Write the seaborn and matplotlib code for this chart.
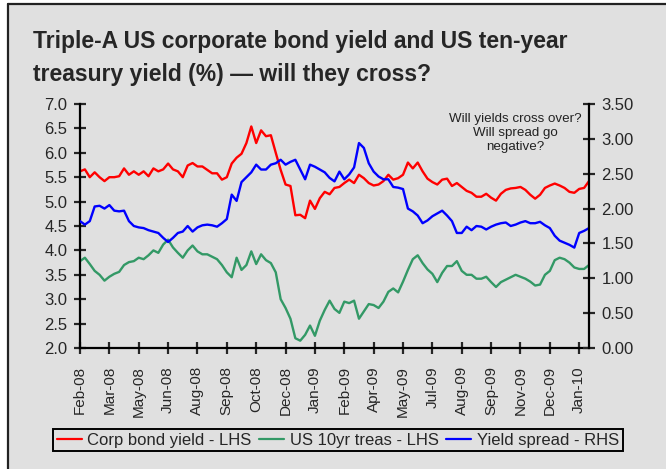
import numpy as np
import pandas as pd
import matplotlib
matplotlib.use("Agg")
import matplotlib.pyplot as plt
from matplotlib.ticker import FormatStrFormatter, MultipleLocator
from matplotlib.patches import Rectangle
from matplotlib.lines import Line2D
import seaborn as sns

# ---- data (weekly samples) ----
corp_bond = [5.62, 5.66, 5.50, 5.60, 5.50, 5.42, 5.50, 5.50, 5.52, 5.68,
             5.55, 5.62, 5.55, 5.62, 5.52, 5.68, 5.62, 5.66, 5.78, 5.66,
             5.62, 5.50, 5.74, 5.79, 5.72, 5.72, 5.65, 5.58, 5.58, 5.45,
             5.50, 5.78, 5.90, 5.98, 6.20, 6.54, 6.20, 6.46, 6.34, 6.36,
             6.00, 5.65, 5.35, 5.32, 4.72, 4.73, 4.66, 5.02, 4.85, 5.07,
             5.20, 5.15, 5.28, 5.30, 5.38, 5.45, 5.38, 5.55, 5.48, 5.38,
             5.33, 5.35, 5.42, 5.55, 5.45, 5.48, 5.55, 5.80, 5.68, 5.80,
             5.62, 5.47, 5.40, 5.35, 5.45, 5.47, 5.32, 5.38, 5.30, 5.22,
             5.18, 5.10, 5.10, 5.16, 5.08, 5.02, 5.16, 5.24, 5.27, 5.28,
             5.30, 5.24, 5.14, 5.06, 5.14, 5.28, 5.33, 5.37, 5.33, 5.28,
             5.20, 5.18, 5.26, 5.28, 5.42]

treasury_10yr = [3.78, 3.85, 3.72, 3.58, 3.50, 3.38, 3.46, 3.52, 3.56, 3.70,
                 3.76, 3.78, 3.85, 3.82, 3.90, 4.00, 3.95, 4.12, 4.22, 4.06,
                 3.95, 3.85, 4.00, 4.10, 3.98, 3.92, 3.92, 3.87, 3.82, 3.70,
                 3.55, 3.45, 3.85, 3.60, 3.70, 3.98, 3.72, 3.92, 3.80, 3.74,
                 3.55, 3.00, 2.82, 2.60, 2.20, 2.15, 2.27, 2.46, 2.25, 2.56,
                 2.78, 2.97, 2.80, 2.72, 2.95, 2.92, 2.97, 2.60, 2.75, 2.90,
                 2.88, 2.82, 2.95, 3.15, 3.22, 3.14, 3.36, 3.60, 3.82, 3.90,
                 3.74, 3.61, 3.52, 3.35, 3.54, 3.68, 3.68, 3.78, 3.58, 3.50,
                 3.50, 3.42, 3.42, 3.46, 3.35, 3.25, 3.35, 3.40, 3.45, 3.50,
                 3.46, 3.42, 3.36, 3.28, 3.30, 3.50, 3.58, 3.80, 3.85, 3.82,
                 3.75, 3.65, 3.62, 3.62, 3.70]

yield_spread = [1.82, 1.77, 1.82, 2.03, 2.04, 2.00, 2.05, 1.97, 1.96, 1.97,
                1.82, 1.75, 1.73, 1.72, 1.69, 1.67, 1.65, 1.58, 1.52, 1.58,
                1.65, 1.67, 1.75, 1.67, 1.73, 1.76, 1.77, 1.76, 1.74, 1.79,
                1.85, 2.20, 2.11, 2.38, 2.45, 2.52, 2.63, 2.56, 2.56, 2.63,
                2.65, 2.70, 2.63, 2.67, 2.70, 2.56, 2.42, 2.63, 2.60, 2.56,
                2.52, 2.44, 2.39, 2.53, 2.42, 2.49, 2.59, 2.94, 2.87, 2.65,
                2.53, 2.46, 2.42, 2.42, 2.31, 2.30, 2.28, 2.00, 1.96, 1.90,
                1.79, 1.83, 1.89, 1.93, 1.97, 1.90, 1.82, 1.65, 1.65, 1.74,
                1.69, 1.75, 1.74, 1.70, 1.74, 1.77, 1.79, 1.80, 1.75, 1.77,
                1.80, 1.82, 1.79, 1.79, 1.81, 1.76, 1.72, 1.61, 1.54, 1.51,
                1.48, 1.44, 1.65, 1.68, 1.72]

tick_labels = ["Feb-08", "Mar-08", "May-08", "Jun-08", "Aug-08", "Sep-08",
               "Oct-08", "Dec-08", "Jan-09", "Feb-09", "Apr-09", "May-09",
               "Jul-09", "Aug-09", "Sep-09", "Nov-09", "Dec-09", "Jan-10"]

days_per_sample = 5      # weekly samples of business days
days_per_tick = 30

df = pd.DataFrame({
    "day": np.arange(len(corp_bond)) * days_per_sample,
    "corp": corp_bond,
    "treas": treasury_10yr,
    "spread": yield_spread,
})

# ---- style ----
sns.set_style("ticks")
plt.rcParams["font.family"] = ["Liberation Sans", "DejaVu Sans"]
BG = "#e0e0e0"
RED, GREEN, BLUE = "#ff0000", "#339966", "#0000ff"

W, H = 666, 469
fig = plt.figure(figsize=(W / 100, H / 100), dpi=100)
fig.patch.set_facecolor("white")
fig.patches.append(Rectangle((8 / W, 0), 1, 1 - 4 / H, transform=fig.transFigure,
                             facecolor=BG, edgecolor="none", zorder=-10))
fig.lines.append(Line2D([8 / W, 1], [1 - 4 / H, 1 - 4 / H], transform=fig.transFigure,
                        color="#222222", lw=1.6))
fig.lines.append(Line2D([8 / W, 8 / W], [0, 1 - 4 / H], transform=fig.transFigure,
                        color="#222222", lw=1.6))

ax = fig.add_axes([80 / W, 1 - 348 / H, (589 - 80) / W, (348 - 104) / H])
ax.set_facecolor(BG)
ax2 = ax.twinx()
ax2.patch.set_visible(False)

lw = 1.7
sns.lineplot(data=df, x="day", y="corp", ax=ax, color=RED, lw=lw, legend=False)
sns.lineplot(data=df, x="day", y="treas", ax=ax, color=GREEN, lw=lw, legend=False)
sns.lineplot(data=df, x="day", y="spread", ax=ax2, color=BLUE, lw=lw, legend=False)

n_days = (len(corp_bond) - 1) * days_per_sample
ax.set_xlim(0, n_days)
ax.set_ylim(2.0, 7.0)
ax2.set_ylim(0.0, 3.5)
ax.yaxis.set_major_locator(MultipleLocator(0.5))
ax.yaxis.set_major_formatter(FormatStrFormatter("%.1f"))
ax2.yaxis.set_major_locator(MultipleLocator(0.5))
ax2.yaxis.set_major_formatter(FormatStrFormatter("%.2f"))
ticks = np.arange(len(tick_labels)) * days_per_tick
ax.set_xticks(ticks)
ax.set_xticklabels(tick_labels, rotation=90)
ax.set_xlabel("")
ax.set_ylabel("")
ax2.set_ylabel("")

for a in (ax, ax2):
    a.spines["top"].set_visible(False)
    for s in ("left", "bottom", "right"):
        a.spines[s].set_linewidth(1.6)
        a.spines[s].set_color("black")
ax.spines["right"].set_visible(False)
ax2.spines["left"].set_visible(False)
ax2.spines["bottom"].set_visible(False)

ax.tick_params(axis="y", direction="inout", length=8, width=1.6, labelsize=12, pad=5)
ax.tick_params(axis="x", direction="inout", length=8, width=1.6, labelsize=11, pad=9)
ax2.tick_params(axis="y", direction="inout", length=8, width=1.6, labelsize=12, pad=5)

# ---- title ----
fig.text(33 / W, 1 - 48 / H, "Triple-A US corporate bond yield and US ten-year",
         fontsize=16.5, fontweight="bold", va="baseline", ha="left")
fig.text(33 / W, 1 - 81 / H, "treasury yield (%) \u2014 will they cross?",
         fontsize=16.5, fontweight="bold", va="baseline", ha="left")

# ---- annotation ----
fig.text(515 / W, 1 - 113 / H, "Will yields cross over?\nWill spread go\nnegative?",
         fontsize=9.6, ha="center", va="top", color="#222222", linespacing=1.2)

# ---- legend ----
handles = [Line2D([], [], color=RED, lw=1.6),
           Line2D([], [], color=GREEN, lw=1.6),
           Line2D([], [], color=BLUE, lw=1.6)]
labels = ["Corp bond yield - LHS", "US 10yr treas - LHS", "Yield spread - RHS"]
leg = fig.legend(handles, labels, loc="center", bbox_to_anchor=(338 / W, 1 - 440 / H),
                 ncol=3, frameon=True, fancybox=False, fontsize=12,
                 handlelength=1.5, handletextpad=0.35, columnspacing=0.45,
                 borderpad=0.2, borderaxespad=0)
leg.get_frame().set_edgecolor("black")
leg.get_frame().set_linewidth(1.4)
leg.get_frame().set_facecolor(BG)
leg.get_frame().set_alpha(1)

fig.savefig("out.png", dpi=100, facecolor=fig.get_facecolor())
